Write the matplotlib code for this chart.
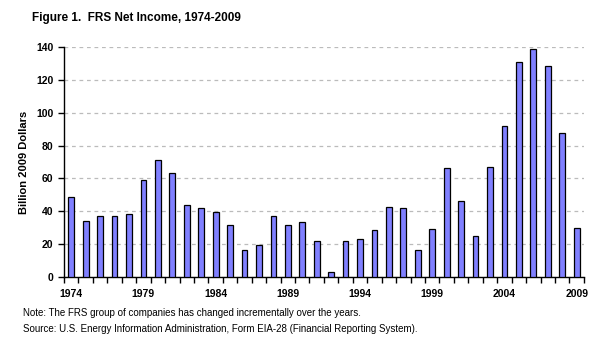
import matplotlib.pyplot as plt

plt.rcParams['font.family'] = ['Liberation Sans', 'DejaVu Sans']

# data
years = list(range(1974, 2010))
income = [48.4, 33.8, 36.8, 36.8, 38.0, 58.8, 71.0, 63.1, 43.5, 41.7,
          39.3, 31.3, 16.1, 19.1, 36.8, 31.3, 33.2, 21.6, 2.6, 21.6,
          22.8, 28.3, 42.3, 41.7, 16.1, 28.9, 66.1, 46.0, 24.6, 66.9,
          91.8, 130.8, 139.2, 128.4, 87.5, 29.5]
label_years = [1974, 1979, 1984, 1989, 1994, 1999, 2004, 2009]

fig = plt.figure(figsize=(5.99, 3.49), dpi=100)
ax = fig.add_axes([0.1068, 0.207, 0.868, 0.6575])

x = list(range(len(years)))
ax.bar(x, income, width=0.4, color='#8080FF', edgecolor='black', linewidth=0.9, zorder=3)

ax.set_xlim(-0.5, len(years) - 0.5)
ax.set_ylim(0, 140)
ax.set_yticks(range(0, 141, 20))
ax.yaxis.grid(True, linestyle=(0, (3, 3)), color='#BBBBBB', linewidth=0.9, zorder=0)

# ticks at category boundaries, labels every five years under the bars
ax.set_xticks([i - 0.5 for i in range(len(years) + 1)])
ax.set_xticklabels([])
ax.set_xticks([years.index(y) for y in label_years], minor=True)
ax.set_xticklabels([str(y) for y in label_years], minor=True)
ax.tick_params(axis='x', which='major', direction='out', length=4, width=1)
ax.tick_params(axis='x', which='minor', length=0, pad=9, labelsize=7.5)
for t in ax.get_xticklabels(minor=True):
    t.set_fontweight('bold')
ax.tick_params(axis='y', direction='out', length=4, width=1, labelsize=7.5)
for t in ax.get_yticklabels():
    t.set_fontweight('bold')

ax.spines['top'].set_visible(False)
ax.spines['right'].set_visible(False)
ax.spines['left'].set_linewidth(1)
ax.spines['bottom'].set_linewidth(1)

ax.set_ylabel('Billion 2009 Dollars', fontsize=8, fontweight='bold', labelpad=5)

fig.text(0.053, 0.948, 'Figure 1.  FRS Net Income, 1974-2009', fontsize=8.5,
         fontweight='bold', va='center')
fig.text(0.038, 0.103, 'Note: The FRS group of companies has changed incrementally over the years.',
         fontsize=7, va='center')
fig.text(0.038, 0.057, 'Source: U.S. Energy Information Administration, Form EIA-28 (Financial Reporting System).',
         fontsize=7, va='center')

fig.savefig('out.png', dpi=100)
